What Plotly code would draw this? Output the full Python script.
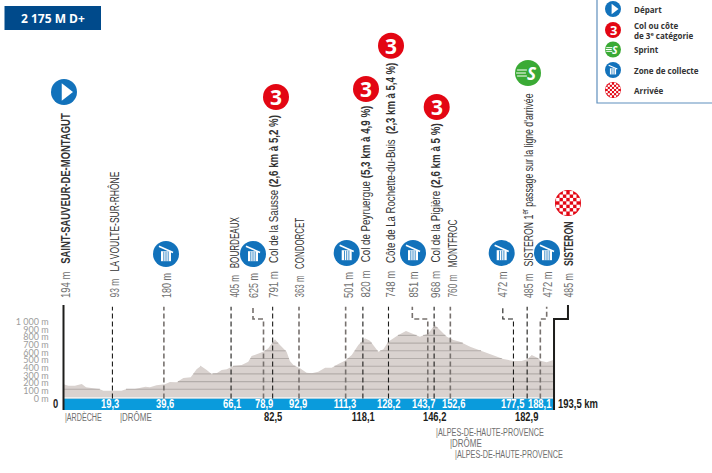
import json
import numpy as np
import plotly.graph_objects as go

# ---------- data ----------
profile_km = [0,1.9,4.5,7.2,8.9,11.1,14.4,15.7,22.9,24.9,28.2,32.3,34.1,36.7,40,42,44.6,47.3,50.2,52.5,54.2,56.5,58.4,60.4,62.4,64.4,67,70.3,72.9,74.2,76.2,78.8,80.8,83.4,85.4,88,89.3,90.7,93.3,95.9,97.9,100.5,103.2,105.8,108.4,111,113.7,116.3,118.9,120.9,124.2,126.2,128.1,132.1,135.1,138,140.6,143.9,146.5,148.5,151.2,153.8,156.4,160.4,165,168.2,173.5,177.4,180.7,183,184.7,187.3,188.2,190.6,193.2,193.5]
profile_m = [164,147,147,169,126,113,100,82,82,104,104,134,126,152,164,195,190,247,255,359,403,351,299,307,351,359,403,416,459,532,558,589,632,749,675,589,468,416,372,316,307,329,381,381,429,472,545,675,762,732,589,619,719,805,857,818,784,827,935,870,784,740,719,654,597,554,494,468,468,489,545,502,472,450,485,485]
levels = [100,200,300,400,500,600,700,800,900]
axis_ticks = [0,100,200,300,400,500,600,700,800,900,1000]
axis_ticktext = ["0 m","100 m","200 m","300 m","400 m","500 m","600 m","700 m","800 m","900 m","1 000 m"]

point_km = [19.3,39.6,66.1,78.9,82.5,92.9,111.3,118.1,128.2,143.7,146.2,152.6,177.5,182.9,188.1]
point_lab = ["19,3","39,6","66,1","78,9","82,5","92,9","111,3","118,1","128,2","143,7","146,2","152,6","177,5","182,9","188,1"]
point_bold = [0,0,0,0,1,0,0,1,0,0,1,0,0,1,0]
point_zone = [0,1,0,1,0,1,1,0,0,1,0,1,0,0,1]
point_elbow = [None,None,None,74.75,None,None,None,None,None,137.6,None,None,173.3,None,190.6]
total_km = 193.5
elbow_end = 199.0

labels_x = [65.5,115,166.5,234,253.5,274,300.5,348.5,365.5,390.5,413,435.5,452,502,527.5,547,568]
labels_alt = ["194 m","93 m","180 m","405 m","625 m","791 m","363 m","501 m","820 m","748 m","851 m","968 m","760 m","472 m","485 m","472 m","485 m"]
labels_name = ["<b>SAINT-SAUVEUR-DE-MONTAGUT</b>","LA VOULTE-SUR-RHÔNE","","BOURDEAUX","","Col de la Sausse <b>(2,6 km à 5,2 %)</b>","CONDORCET","","Col de Peyruergue <b>(5,3 km à 4,9 %)</b>","Côte de La Rochette-du-Buis  <b>(2,3 km à 5,4 %)</b>","","Col de la Pigière <b>(2,6 km à 5 %)</b>","MONTFROC","","SISTERON 1<sup>er</sup> passage sur la ligne d'arrivée","","<b>SISTERON</b>"]
labels_len = [185,126,25,81,25,183,80,26,192,235,26,175,78,26,205,26,76]

dept_names = ["|ARDÈCHE","|DRÔME","|ALPES-DE-HAUTE-PROVENCE","|DRÔME","|ALPES-DE-HAUTE-PROVENCE"]
dept_px = [(65,416.7),(120,416.7),(436,431.7),(450,443.3),(455,454)]
dept_len = [37,32,108,32,108]

legend_names = ["Départ","Col ou côte<br>de 3<sup>e</sup> catégorie","Sprint","Zone de collecte","Arrivée"]
legend_kind = ["start","col","sprint","zone","finish"]
legend_y = [9,30,49.5,70,90]

icons = [("start",64,92),("col",276,97),("col",366,89),("col",391,45.7),("col",436.7,107),
         ("sprint",528,73),("finish",568,203),("zone",166,254),("zone",253,254),("zone",346.7,253),
         ("zone",413,253),("zone",501.7,253),("zone",547,253)]

# ---------- page mapping ----------
W, H = 712, 473
SX, SY = 2.535, 0.077
def kx(p): return (p-63.5)/SX
def ky(p): return (397-p)/SY

NARROW = "Liberation Sans, Arial, sans-serif"
GREY = "#6f6f6f"
DARK = "#1d1d1b"
BLUE = "#1272bb"; RED = "#e30613"; GREEN = "#3aaa35"; BAND = "#0a9bdc"

fig = go.Figure()
fig.add_trace(go.Scatter(x=profile_km, y=profile_m, mode="lines", line=dict(width=0),
                         fill="tozeroy", fillcolor="#d9d2cf", hoverinfo="skip"))
fine = np.linspace(0, total_km, 1500)
fy = np.interp(fine, profile_km, profile_m)
for lv in levels:
    yy = np.where(fy >= lv, float(lv), np.nan)
    fig.add_trace(go.Scatter(x=fine, y=yy, mode="lines", line=dict(color="#b3adaa", width=1.1), hoverinfo="skip"))

band_top, band_bot = ky(398.5), ky(410)
fig.add_trace(go.Scatter(x=[0,total_km,total_km,0,0], y=[band_top,band_top,band_bot,band_bot,band_top],
                         mode="lines", line=dict(width=0), fill="toself", fillcolor=BAND, hoverinfo="skip"))
fig.add_trace(go.Scatter(x=[0,total_km], y=[ky(398),ky(398)], mode="lines", line=dict(color="#d9d2cf",width=0.8), hoverinfo="skip"))

top, elb = ky(306.7), ky(319)
for km, zone, eb in zip(point_km, point_zone, point_elbow):
    if eb is None:
        xs, ys = [km,km], [band_top, top]
    else:
        xs, ys = [km,km,eb,eb], [band_top, elb, elb, top]
    col, wd = ("#77716e",1.6) if zone else (DARK,1.1)
    fig.add_trace(go.Scatter(x=xs, y=ys, mode="lines", line=dict(color=col,width=wd,dash="5px,3px"), hoverinfo="skip"))
fig.add_trace(go.Scatter(x=[0,0], y=[band_bot, ky(305)], mode="lines", line=dict(color=DARK,width=2), hoverinfo="skip"))
fig.add_trace(go.Scatter(x=[total_km,total_km,elbow_end,elbow_end], y=[band_bot,elb,elb,ky(305)], mode="lines",
                         line=dict(color=DARK,width=2), hoverinfo="skip"))

fig.add_trace(go.Scatter(x=[kx(597),kx(597),kx(720)], y=[ky(-5),ky(103),ky(103)], mode="lines",
                         line=dict(color="#5f8fbd",width=1.2), hoverinfo="skip"))
fig.add_trace(go.Scatter(x=[kx(4.5),kx(101),kx(101),kx(4.5),kx(4.5)], y=[ky(6),ky(6),ky(30),ky(30),ky(6)], mode="lines",
                         line=dict(width=0), fill="toself", fillcolor="#004a8b", hoverinfo="skip"))

mx=[];my=[];ms=[];mc=[];msym=[];mang=[];mlc=[];mlw=[]
def mark(x,y,size,color,sym="circle",ang=0,lc=None,lw=0):
    mx.append(kx(x));my.append(ky(y));ms.append(size);mc.append(color);msym.append(sym);mang.append(ang)
    mlc.append(lc if lc else color);mlw.append(lw)
ann=[]; squeeze=[]
def text(x,y,t,size,color,font=NARROW,xa="center",ya="middle",angle=0,align="left",target=None,factor=None,start=False):
    ann.append(dict(x=kx(x),y=ky(y),xref="x",yref="y",text=t,showarrow=False,xanchor=xa,yanchor=ya,align=align,
                    textangle=angle,borderpad=0,borderwidth=0,font=dict(size=size,color=color,family=font)))
    squeeze.append([target,factor,start])
def icon(kind,x,y,r):
    s=r/13
    col={"start":BLUE,"col":RED,"sprint":GREEN,"zone":BLUE,"finish":RED}[kind]
    mark(x,y,2*r,col)
    if kind=="start":
        mark(x+1.5*s,y,15*s,"white","triangle-right")
    elif kind=="col":
        text(x,y+0.3,"<b>3</b>",21*s,"white",font="Open Sans, DejaVu Sans",align="center")
    elif kind=="sprint":
        text(x+3.5*s,y,"<b><i>S</i></b>",17*s,"white",font="Open Sans, DejaVu Sans",align="center")
        for dy,dx in ((-3,-6),(0,-7),(3,-6)):
            mark(x+dx*s,y+dy*s,7*s,"white","line-ew",0,"white",1)
    elif kind=="zone":
        mark(x,y+2.2*s,10*s,"white","square")
        mark(x,y-4.6*s,11*s,"white","line-ew",24,"white",1.4*s+0.2)
        for dx in (-2.2,0,2.2):
            mark(x+dx*s,y+2.5*s,7*s,BLUE,"line-ns",0,BLUE,0.7*s+0.1)
    elif kind=="finish":
        st=3.4*s
        for i in range(-3,4):
            for j in range(-3,4):
                if (i+j)%2==0 and i*i+j*j<=10:
                    mark(x+i*st,y+j*st,3.4*s,"white","square")

for k,x,y in icons:
    icon(k,x,y,13)
for k,y in zip(legend_kind,legend_y):
    icon(k,613,y,8)
fig.add_trace(go.Scatter(x=mx,y=my,mode="markers",hoverinfo="skip",
    marker=dict(size=ms,color=mc,symbol=msym,angle=mang,opacity=1,line=dict(color=mlc,width=mlw))))

for x,a,n,ln in zip(labels_x,labels_alt,labels_name,labels_len):
    t=f'<span style="color:{GREY}">{a}</span>'
    if n: t+=f'<span style="color:{GREY}">\u00a0\u00a0\u00a0</span><span style="color:#333">{n}</span>'
    text(x,298,t,12.5,GREY,xa="center",ya="bottom",angle=-90,target=ln,start=True)

band_x=[110,165,232,264,273,298,345,363,388,423,434,453,512.7,526.7,539]
for x,l,b in zip(band_x,point_lab,point_bold):
    if b: text(x,416.7,f"<b>{l}</b>",12.5,DARK,align="center",factor=0.75)
    else: text(x,404,f"<b>{l}</b>",12.5,"white",align="center",factor=0.75)
text(558,404,"<b>193,5 km</b>",12.5,DARK,xa="left",target=40,start=True)
text(55.7,404,"<b>0</b>",12.5,DARK,factor=0.75)
for n,(x,y),ln in zip(dept_names,dept_px,dept_len):
    text(x,y,n,11.5,GREY,xa="left",target=ln,start=True)
text(52.5,18,"<b>2 175 M D+</b>",12,"white",font="Open Sans, DejaVu Sans",align="center")
LF="Open Sans, DejaVu Sans"
for n,y in zip(legend_names,legend_y):
    text(633.5,y,f"<b>{n}</b>",8,"#333",font=LF,xa="left")

fig.update_layout(width=W,height=H,margin=dict(l=0,r=0,t=0,b=0),paper_bgcolor="white",plot_bgcolor="white",
    showlegend=False,annotations=ann,hovermode=False,
    xaxis=dict(domain=[0,1],range=[kx(0),kx(W)],visible=False,fixedrange=True),
    yaxis=dict(domain=[0,1],range=[ky(H),ky(0)],anchor="free",position=63.5/W,showgrid=False,zeroline=False,
        tickmode="array",tickvals=[v-22 for v in axis_ticks],ticktext=axis_ticktext,ticks="outside",ticklen=13,
        tickcolor="rgba(0,0,0,0)",showline=False,fixedrange=True,
        tickfont=dict(size=9,color="#9d9d9c",family="Lato, sans-serif")))
js = """
document.body.style.margin='0';document.documentElement.style.overflow='hidden';
var sq=%s;
sq.forEach(function(s,i){
  if(s[0]===null&&s[1]===null)return;
  var el=document.querySelector('.annotation[data-index="'+i+'"] .annotation-text');
  if(!el)return;
  var b=el.getBBox();
  var f=s[0]!==null?s[0]/b.width:s[1];
  var ax=s[2]?b.x:b.x+b.width/2;
  el.setAttribute('transform','translate('+ax+',0) scale('+f+',1) translate('+(-ax)+',0)');
});
""" % json.dumps(squeeze)
fig.write_html("out.html", post_script=js, config=dict(displayModeBar=False))
